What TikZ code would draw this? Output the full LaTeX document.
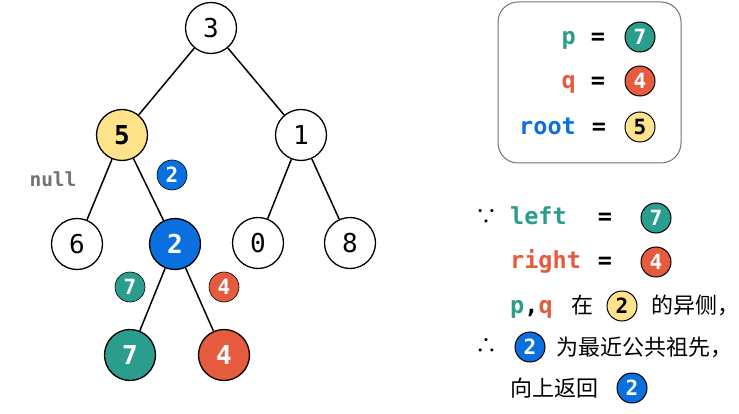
\documentclass[tikz,border=0pt]{standalone}
\usepackage{fontspec}
\setmonofont{DejaVu Sans Mono}
\newfontfamily\cjk{Noto Sans CJK SC}
\definecolor{pteal}{HTML}{2A9D8C}
\definecolor{qred}{HTML}{E65A3E}
\definecolor{rblue}{HTML}{0A6FDF}
\definecolor{ryellow}{HTML}{FFE38B}

\begin{document}
\begin{tikzpicture}[x=1pt,y=-1pt,
    every node/.style={inner sep=0pt},
    tnode/.style={circle,draw,fill=white,line width=1.3pt,minimum size=51pt,font=\ttfamily\fontsize{26}{26}\selectfont},
    hot/.style={fill=#1,text=white,font=\ttfamily\bfseries\fontsize{26}{26}\selectfont},
    badge/.style={circle,draw,line width=1pt,minimum size=30pt,fill=#1,text=white,font=\ttfamily\bfseries\fontsize{21}{21}\selectfont},
    code/.style={anchor=base west,font=\ttfamily\bfseries\fontsize{23.5}{23.5}\selectfont},
    zh/.style={anchor=base west,font=\cjk\fontsize{22}{22}\selectfont}]
  \useasboundingbox (0,0) rectangle (739,414);
  % tree
  \node[tnode] (n3) at (211,28) {3};
  \node[tnode,hot=ryellow,text=black] (n5) at (122,135) {5};
  \node[tnode] (n1) at (301,135) {1};
  \node[tnode] (n6) at (77,244) {6};
  \node[tnode,hot=rblue] (n2) at (175,244) {2};
  \node[tnode] (n0) at (258,243) {0};
  \node[tnode] (n8) at (350,243) {8};
  \node[tnode,hot=pteal] (n7) at (130,355) {7};
  \node[tnode,hot=qred] (n4) at (224,355) {4};
  \draw[line width=1.5pt] (n3) -- (n5) (n3) -- (n1) (n5) -- (n6) (n5) -- (n2)
    (n1) -- (n0) (n1) -- (n8) (n2) -- (n7) (n2) -- (n4);
  \node[text=black!55,font=\ttfamily\bfseries\fontsize{19.5}{19.5}\selectfont] (null) at (53,179) {null};
  \node[badge=rblue,line width=.6pt] (up2) at (172,175) {2};
  \node[badge=pteal,line width=.6pt] (up7) at (130,287) {7};
  \node[badge=qred,line width=.6pt] (up4) at (224,287) {4};
  % box
  \draw[black!55,line width=1pt,rounded corners=20pt] (498,2) rectangle (681,163);
  \node[code,anchor=base east,text=pteal] (p) at (576,45) {p};
  \node[code,anchor=base] (peq) at (598,45) {=};
  \node[badge=pteal] (bp) at (640,37) {7};
  \node[code,anchor=base east,text=qred] (q) at (576,89) {q};
  \node[code,anchor=base] (qeq) at (598,89) {=};
  \node[badge=qred] (bq) at (640,81) {4};
  \node[code,anchor=base east,text=rblue] (root) at (576,135) {root};
  \node[code,anchor=base] (req) at (599,135) {=};
  \node[badge=ryellow,text=black] (broot) at (640,127) {5};
  % explanation
  \node[font=\cjk\fontsize{22}{22}\selectfont] (since) at (486,217) {∵};
  \node[code,text=pteal] (left) at (510,225) {left};
  \node[code,anchor=base] (leq) at (605,225) {=};
  \node[badge=pteal] (bl) at (656,218) {7};
  \node[code,text=qred] (right) at (510,269) {right};
  \node[code,anchor=base] (req2) at (605,269) {=};
  \node[badge=qred] (br) at (656,262) {4};
  \node[code] (pq) at (510,313) {\textcolor{pteal}{p},\textcolor{qred}{q}};
  \node[zh] (zai) at (571,313) {在};
  \node[badge=ryellow,text=black] (bpq) at (622,306) {2};
  \node[zh] (side) at (651,313) {的异侧，};
  \node[font=\cjk\fontsize{22}{22}\selectfont] (hence) at (486,346) {∴};
  \node[badge=rblue] (blca) at (530,347) {2};
  \node[zh] (lca) at (556,355) {为最近公共祖先，};
  \node[zh] (ret) at (510,396) {向上返回};
  \node[badge=rblue] (bret) at (632,388) {2};
\end{tikzpicture}
\end{document}
